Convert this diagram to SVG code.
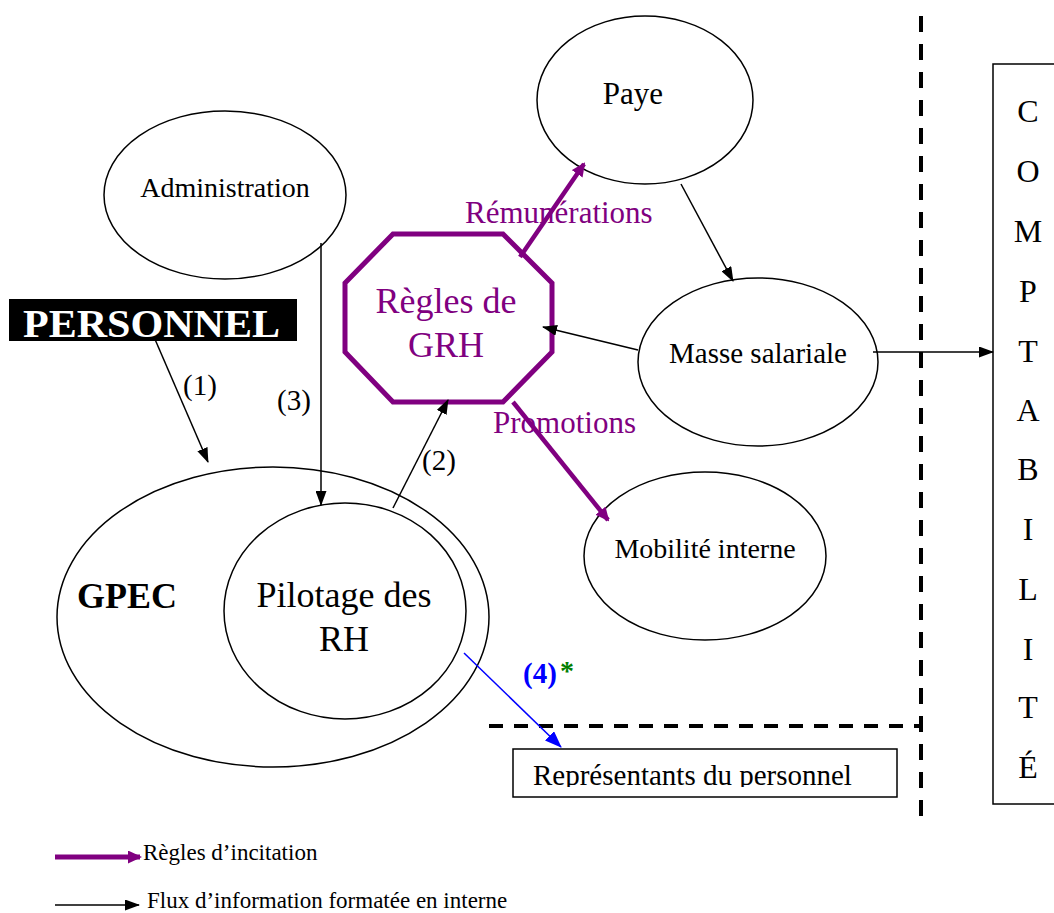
<svg xmlns="http://www.w3.org/2000/svg" width="1054" height="913" viewBox="0 0 1054 913">
<style>
text{font-family:"Liberation Serif","Times New Roman",serif;fill:#000}
.node{fill:#fff;stroke:#000;stroke-width:1.5}
.lbl{font-size:29px;text-anchor:middle}
.blk{stroke:#000;stroke-width:1.5;fill:none;marker-end:url(#ab)}
.pur{stroke:#800080;stroke-width:4.5;fill:none;marker-end:url(#ap)}
.dash{stroke:#000;stroke-width:4;fill:none}
.purt{fill:#800080}
</style>
<defs>
<marker id="ab" markerUnits="userSpaceOnUse" markerWidth="15" markerHeight="11" refX="14" refY="5.5" orient="auto"><path d="M0,0 L15,5.5 L0,11 z" fill="#000"/></marker>
<marker id="ap" markerUnits="userSpaceOnUse" markerWidth="14" markerHeight="13" refX="12" refY="6.5" orient="auto"><path d="M0,0 L14,6.5 L0,13 z" fill="#800080"/></marker>
<marker id="abl" markerUnits="userSpaceOnUse" markerWidth="17" markerHeight="13" refX="16" refY="6.5" orient="auto"><path d="M0,0 L17,6.5 L0,13 z" fill="#0000ff"/></marker>
<clipPath id="repclip"><rect x="513" y="749" width="384" height="38"/></clipPath>
</defs>
<rect width="1054" height="913" fill="#fff"/>

<g id="separators">
<line class="dash" x1="921" y1="16" x2="921" y2="825" stroke-dasharray="16 12"/>
<line class="dash" x1="489" y1="726" x2="921" y2="726" stroke-dasharray="14 11"/>
</g>

<g id="gpec">
<ellipse cx="273" cy="617" rx="216" ry="150" fill="none" stroke="#000" stroke-width="1.5"/>
<text x="77" y="608" font-size="36" font-weight="bold">GPEC</text>
</g>
<g id="pilotage">
<ellipse class="node" cx="345" cy="611" rx="121" ry="108"/>
<text x="344" y="607" font-size="36" text-anchor="middle">Pilotage des</text>
<text x="344" y="651" font-size="36" text-anchor="middle">RH</text>
</g>
<g id="personnel">
<rect x="9" y="299" width="288" height="42" fill="#000"/>
<text x="23" y="337" font-size="41" font-weight="bold" style="fill:#fff" textLength="257" lengthAdjust="spacingAndGlyphs">PERSONNEL</text>
</g>
<g id="administration">
<ellipse class="node" cx="225" cy="195" rx="121" ry="84"/>
<text class="lbl" x="225" y="197" style="font-size:28px">Administration</text>
</g>
<g id="paye">
<ellipse class="node" cx="645" cy="100" rx="108" ry="84"/>
<text class="lbl" x="633" y="104" style="font-size:31px">Paye</text>
</g>
<g id="masse">
<ellipse class="node" cx="758" cy="362" rx="120" ry="84"/>
<text class="lbl" x="758" y="363">Masse salariale</text>
</g>
<g id="mobilite">
<ellipse class="node" cx="705" cy="556" rx="121" ry="84"/>
<text class="lbl" x="705" y="558" style="font-size:28px">Mobilité interne</text>
</g>
<g id="regles">
<polygon points="393,234 503,234 552,283 552,352 503,402 393,402 345,352 345,283" fill="#fff" stroke="#800080" stroke-width="5"/>
<text class="purt" x="446" y="313" font-size="36" text-anchor="middle">Règles de</text>
<text class="purt" x="446" y="357" font-size="36" text-anchor="middle">GRH</text>
</g>
<g id="comptabilite">
<rect x="993" y="64" width="70" height="740" fill="#fff" stroke="#000" stroke-width="1.5"/>
<g font-size="32" text-anchor="middle">
<text x="1028" y="122">C</text>
<text x="1028" y="182">O</text>
<text x="1028" y="242">M</text>
<text x="1028" y="302">P</text>
<text x="1028" y="362">T</text>
<text x="1028" y="421">A</text>
<text x="1028" y="480">B</text>
<text x="1028" y="540">I</text>
<text x="1028" y="600">L</text>
<text x="1028" y="660">I</text>
<text x="1028" y="718">T</text>
<text x="1028" y="778">É</text>
</g>
</g>
<g id="representants">
<rect x="513" y="749" width="384" height="48" fill="#fff" stroke="#000" stroke-width="1.5"/>
<text x="533" y="785" font-size="29" clip-path="url(#repclip)">Représentants du personnel</text>
</g>

<g id="connectors">
<text class="purt" x="465" y="223" font-size="31">Rémunérations</text>
<text class="purt" x="493" y="433" font-size="31">Promotions</text>
<text x="183" y="395" font-size="29">(1)</text>
<text x="422" y="470" font-size="29">(2)</text>
<text x="277" y="410" font-size="29">(3)</text>
<text x="523" y="683" font-size="29" font-weight="bold" style="fill:#0000ff">(4)</text>
<text x="560" y="680" font-size="28" font-weight="bold" style="fill:#008000">*</text>
<line class="blk" x1="154" y1="337" x2="208" y2="462"/>
<line class="blk" x1="321" y1="243" x2="321" y2="505"/>
<line class="blk" x1="393" y1="508" x2="448" y2="400"/>
<line class="blk" x1="681" y1="184" x2="733" y2="281"/>
<line class="blk" x1="638" y1="350" x2="543" y2="327"/>
<line class="blk" x1="873" y1="352" x2="993" y2="352"/>
<line class="pur" x1="520" y1="257" x2="584" y2="164"/>
<line class="pur" x1="513" y1="402" x2="608" y2="520"/>
<line x1="464" y1="653" x2="561" y2="747" stroke="#0000ff" stroke-width="1.5" marker-end="url(#abl)"/>
</g>

<g id="legend">
<line x1="55" y1="857" x2="140" y2="857" stroke="#800080" stroke-width="5" marker-end="url(#ap)"/>
<text x="143" y="860" font-size="23">Règles d’incitation</text>
<line class="blk" x1="55" y1="905" x2="139" y2="905"/>
<text x="147" y="908" font-size="23">Flux d’information formatée en interne</text>
</g>
</svg>
